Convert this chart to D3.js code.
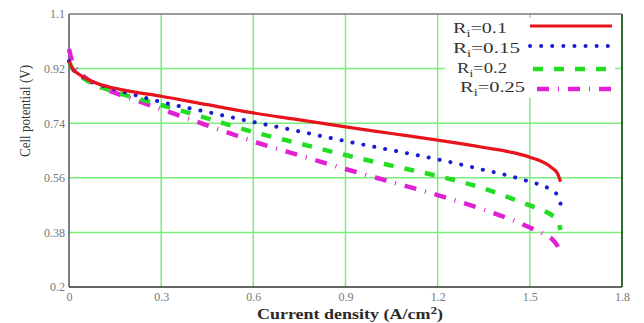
<!DOCTYPE html>
<html><head><meta charset="utf-8">
<script src="https://cdn.jsdelivr.net/npm/d3@7"></script>
<style>body{margin:0;background:#fff}svg{display:block}</style>
</head><body><svg id="c" width="644" height="323"></svg>
<script>
const currentDensity = [0, 0.01, 0.03, 0.06, 0.1, 0.15, 0.2, 0.3, 0.45, 0.6, 0.75, 0.9, 1.05, 1.2, 1.35, 1.45, 1.5, 1.55, 1.57, 1.59, 1.6];
const ri010 = [0.945, 0.922, 0.903, 0.885, 0.868, 0.855, 0.845, 0.829, 0.801, 0.774, 0.751, 0.728, 0.706, 0.684, 0.66, 0.642, 0.628, 0.608, 0.594, 0.574, 0.547];
const ri015 = [0.945, 0.922, 0.903, 0.884, 0.867, 0.851, 0.837, 0.81, 0.777, 0.744, 0.713, 0.681, 0.651, 0.621, 0.586, 0.562, 0.547, 0.531, 0.52, 0.502, 0.474];
const ri020 = [0.945, 0.922, 0.902, 0.88, 0.86, 0.843, 0.828, 0.80, 0.756, 0.711, 0.673, 0.635, 0.6, 0.566, 0.525, 0.488, 0.469, 0.449, 0.438, 0.42, 0.388];
const ri025 = [0.985, 0.945, 0.912, 0.885, 0.86, 0.84, 0.822, 0.786, 0.733, 0.68, 0.634, 0.589, 0.546, 0.503, 0.455, 0.418, 0.396, 0.372, 0.36, 0.335, 0.31];
const seriesNames = ["0.1", "0.15", "0.2", "0.25"];
const xTicks = [0, 0.3, 0.6, 0.9, 1.2, 1.5, 1.8];
const yTicks = [0.2, 0.38, 0.56, 0.74, 0.92, 1.1];

const svg = d3.select("#c");
const L = 69, R = 622, T = 14, B = 287;
const x = d3.scaleLinear().domain([0, 1.8]).range([L, R]);
const y = d3.scaleLinear().domain([0.2, 1.1]).range([B, T]);
const serif = "'Liberation Serif', 'Times New Roman', serif";

// gridlines
const grid = svg.append("g").attr("stroke", "#7cee7c").attr("stroke-width", 1.5);
xTicks.slice(1, -1).forEach(t => grid.append("line").attr("x1", x(t)).attr("x2", x(t)).attr("y1", T).attr("y2", B));
yTicks.slice(1, -1).forEach(t => grid.append("line").attr("y1", y(t)).attr("y2", y(t)).attr("x1", L).attr("x2", R));

// legend background
svg.append("rect").attr("x", 445).attr("y", 18).attr("width", 170).attr("height", 80).attr("fill", "#fff");

// frame
svg.append("line").attr("x1", L).attr("x2", R).attr("y1", T).attr("y2", T).attr("stroke", "#7a7a7a").attr("stroke-width", 1.5);
svg.append("line").attr("x1", L).attr("x2", L).attr("y1", T).attr("y2", B).attr("stroke", "#555").attr("stroke-width", 1.5);
svg.append("line").attr("x1", L).attr("x2", R).attr("y1", B).attr("y2", B).attr("stroke", "#333").attr("stroke-width", 1.5);
svg.append("line").attr("x1", R).attr("x2", R).attr("y1", T).attr("y2", B).attr("stroke", "#2f6a2f").attr("stroke-width", 2);

// axes via d3 axis generators (labels only)
const xAxis = svg.append("g").attr("transform", `translate(0,${B})`)
  .call(d3.axisBottom(x).tickValues(xTicks).tickFormat(d3.format("")).tickSize(0).tickPadding(5));
const yAxis = svg.append("g").attr("transform", `translate(${L},0)`)
  .call(d3.axisLeft(y).tickValues(yTicks).tickFormat(d3.format("")).tickSize(0).tickPadding(4));
[xAxis, yAxis].forEach(a => {
  a.select(".domain").remove();
  a.selectAll("text").attr("font-family", serif).attr("font-size", 12).attr("fill", "#777");
});

// series
const styles = [
  {data: ri010, color: "#e8141c", w: 3.2, dash: null, cap: "butt"},
  {data: ri015, color: "#1b1bd6", w: 4, dash: "0.1 11", cap: "round"},
  {data: ri020, color: "#22dd22", w: 4.5, dash: "10 11", cap: "butt"},
  {data: ri025, color: "#e020d4", w: 4.5, dash: "12 9 1 9", cap: "butt"}
];
const line = d3.line().x(d => x(d[0])).y(d => y(d[1])).curve(d3.curveMonotoneX);
styles.slice().reverse().forEach(s => {
  svg.append("path").datum(currentDensity.map((c, i) => [c, s.data[i]]))
    .attr("d", line).attr("fill", "none").attr("stroke", s.color)
    .attr("stroke-width", s.w).attr("stroke-linecap", s.cap)
    .attr("stroke-dasharray", s.dash);
});

// legend
const legRows = [
  {tx: 453, ty: 33, tl: 54, lx1: 530, lx2: 612, ly: 26},
  {tx: 453, ty: 53, tl: 67, lx1: 530, lx2: 610, ly: 46},
  {tx: 457, ty: 73, tl: 50, lx1: 533, lx2: 614, ly: 69},
  {tx: 460, ty: 92, tl: 65, lx1: 537, lx2: 612, ly: 89}
];
legRows.forEach((r, i) => {
  const t = svg.append("text").attr("x", r.tx).attr("y", r.ty)
    .attr("font-family", serif).attr("font-size", 15.5).attr("fill", "#333")
    .attr("textLength", r.tl).attr("lengthAdjust", "spacingAndGlyphs");
  t.append("tspan").text("R");
  t.append("tspan").attr("dy", 4).attr("font-size", 11).text("i");
  t.append("tspan").attr("dy", -4).text("=" + seriesNames[i]);
  const s = styles[i];
  svg.append("line").attr("x1", r.lx1).attr("x2", r.lx2).attr("y1", r.ly).attr("y2", r.ly)
    .attr("stroke", s.color).attr("stroke-width", s.w).attr("stroke-linecap", s.cap)
    .attr("stroke-dasharray", s.dash);
});

// axis titles
const xt = svg.append("text").attr("x", 350).attr("y", 319).attr("text-anchor", "middle")
  .attr("font-family", serif).attr("font-size", 15).attr("font-weight", "bold").attr("fill", "#2a2a2a")
  .attr("textLength", 186).attr("lengthAdjust", "spacingAndGlyphs");
xt.append("tspan").text("Current density (A/cm");
xt.append("tspan").attr("dy", -5).attr("font-size", 11).text("2");
xt.append("tspan").attr("dy", 5).text(")");

svg.append("text").attr("transform", "translate(30,111) rotate(-90)").attr("text-anchor", "middle")
  .attr("font-family", serif).attr("font-size", 14).attr("fill", "#333")
  .attr("textLength", 92).attr("lengthAdjust", "spacingAndGlyphs")
  .text("Cell potential (V)");
</script></body></html>
